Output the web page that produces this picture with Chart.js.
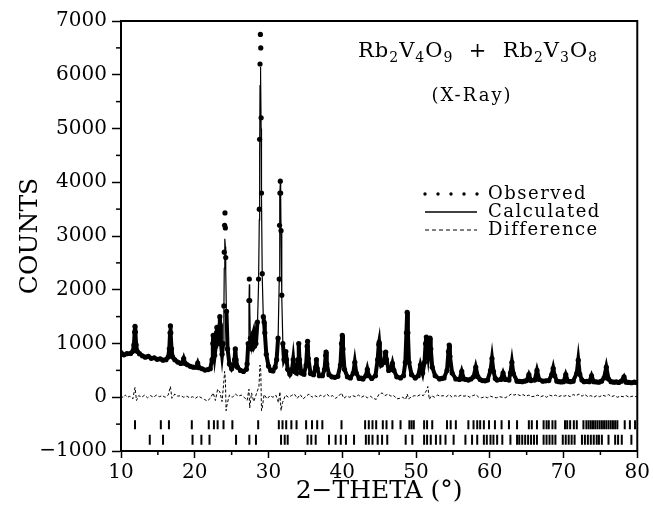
<!DOCTYPE html>
<html>
<head>
<meta charset="utf-8">
<script src="https://cdn.jsdelivr.net/npm/chart.js@4.4.0/dist/chart.umd.min.js"></script>
<style>
  html, body { margin: 0; padding: 0; background: #fff; }
  #wrap { width: 653px; height: 509px; position: relative; }
</style>
</head>
<body>
<div id="wrap"><canvas id="grafico"></canvas></div>
<script>
// Perfil observado / calculado (2-theta em graus, contagens)
const twoTheta = [
  10.0, 10.4, 10.8, 11.3, 11.6, 11.75, 11.85, 11.9, 11.95, 12.05, 12.2, 12.5,
  12.9, 13.3, 13.7, 14.1, 14.5, 14.9, 15.3, 15.7, 16.1,
  16.4, 16.55, 16.65, 16.7, 16.75, 16.85, 17.0, 17.3,
  17.7, 18.1, 18.3, 18.5, 18.7, 19.0, 19.4, 19.8, 20.2, 20.4, 20.6, 21.0, 21.4, 21.8,
  22.1, 22.35, 22.45, 22.5, 22.55, 22.7, 22.85, 22.95, 23.0, 23.05, 23.15, 23.3, 23.4, 23.45, 23.55, 23.7, 23.85, 23.95, 24.0, 24.05, 24.1, 24.15, 24.2, 24.3, 24.45, 24.7,
  25.0, 25.3, 25.4, 25.5, 25.6, 25.8, 26.2, 26.6, 27.0,
  27.1, 27.25, 27.35, 27.4, 27.45, 27.55, 27.7, 27.85, 27.95, 28.1, 28.3, 28.5, 28.65, 28.75, 28.8, 28.85, 28.9, 28.95, 29.0, 29.05, 29.15, 29.3, 29.4, 29.5, 29.7, 30.0, 30.3, 30.6,
  30.9, 31.1, 31.3, 31.45, 31.5, 31.55, 31.6, 31.65, 31.7, 31.8, 31.95, 32.1, 32.25, 32.35, 32.45, 32.6, 32.9,
  33.2, 33.35, 33.5, 33.8, 34.0, 34.1, 34.2, 34.45, 34.8, 35.1, 35.25, 35.3, 35.4, 35.7, 36.1, 36.4, 36.5, 36.6, 36.9, 37.3, 37.6, 37.75, 37.8, 37.9, 38.2, 38.6,
  39.0, 39.4, 39.75, 39.9, 40.0, 40.1, 40.3, 40.7, 41.1, 41.5, 41.7, 41.9, 42.3, 42.55, 42.8, 43.2, 43.4, 43.6, 44.0, 44.5,
  44.8, 44.95, 45.0, 45.1, 45.3, 45.7, 45.85, 45.9, 46.0, 46.3, 46.6, 46.8, 47.0, 47.4, 47.9,
  48.3, 48.55, 48.7, 48.8, 48.9, 49.05, 49.4, 49.9, 50.3, 50.6, 50.9, 51.15, 51.3, 51.4, 51.5, 51.65, 51.8, 51.9, 52.0, 52.2, 52.6,
  53.2, 53.5, 53.8, 54.2, 54.4, 54.5, 54.6, 54.9, 55.4, 55.9, 56.2, 56.5, 56.8, 57.1, 57.45, 57.8, 58.1, 58.4, 58.7, 59.0, 59.35, 59.7,
  60.1, 60.3, 60.5, 60.75, 61.0, 61.5, 61.8, 62.1, 62.6, 62.8, 63.0, 63.2, 63.7, 64.05, 64.4, 64.7, 65.0, 65.3, 65.6, 66.1, 66.4, 66.7,
  67.2, 67.6, 68.0, 68.4, 68.6, 68.8, 69.1, 69.4, 69.7, 70.0, 70.3, 70.6, 70.95, 71.3, 71.8, 72.0, 72.2, 72.5, 72.8, 73.15, 73.5,
  73.8, 74.1, 74.45, 74.8, 75.15, 75.5, 75.8, 76.1, 76.45, 76.8, 77.15, 77.5, 77.85, 78.2, 78.5, 78.85, 79.2, 79.6, 80.0
];
const observed = [
  830, 790, 810, 815, 854, 975, 1214, 1320, 1214, 975, 854, 811,
  770, 745, 760, 725, 735, 705, 715, 690, 700,
  749, 901, 1198, 1330, 1198, 901, 749, 696,
  655, 630, 640, 720, 630, 605, 575, 560, 560, 635, 550, 530, 505, 515,
  530, 700, 1000, 1150, 1000, 780, 950, 1200, 1300, 1200, 1000, 1250, 1500, 1350, 1000, 800, 1000, 1700, 2700, 3200, 3430, 3150, 2600, 1600, 900, 620,
  530, 600, 700, 900, 700, 560, 500, 480, 520,
  620, 1000, 1800, 2200, 1800, 1100, 900, 1150, 1200, 950, 1000, 1400, 2200, 3500, 4800, 6200, 6750, 6500, 5200, 3800, 2300, 1500, 1400, 1200, 800, 580, 500, 490,
  560, 700, 1100, 2200, 3200, 3800, 4020, 3800, 3100, 1900, 1000, 700, 750, 850, 700, 520, 430,
  520, 700, 480, 450, 700, 1000, 700, 450, 430, 600, 950, 1040, 720, 440, 420, 560, 700, 540, 400, 400, 520, 780, 840, 620, 420, 380,
  370, 390, 600, 1000, 1150, 900, 520, 380, 360, 450, 650, 450, 350, 355, 340, 400, 520, 400, 350, 400,
  700, 980, 1020, 850, 600, 650, 820, 840, 700, 500, 520, 630, 500, 380, 360,
  400, 650, 1200, 1580, 1200, 650, 420, 360, 400, 600, 450, 650, 1000, 1120, 950, 780, 980, 1100, 900, 560, 400,
  340, 350, 360, 500, 850, 970, 760, 450, 340, 330, 480, 340, 330, 320, 340, 380, 560, 380, 330, 310, 305, 320,
  500, 720, 480, 350, 320, 330, 450, 330, 320, 450, 650, 440, 300, 295, 290, 300, 310, 420, 310, 320, 500, 330,
  300, 305, 310, 420, 540, 400, 300, 290, 285, 290, 420, 300, 290, 300, 450, 690, 430, 320, 290, 295, 290,
  400, 290, 285, 280, 300, 360, 560, 340, 290, 280, 285, 275, 300, 380, 280, 275, 270, 280, 270
];
const calculated = [
  815, 805, 800, 808, 846, 955, 1166, 1260, 1166, 955, 846, 809,
  768, 755, 745, 735, 725, 715, 705, 698, 693,
  740, 873, 1134, 1250, 1134, 873, 740, 693,
  650, 635, 635, 705, 628, 600, 582, 565, 556, 625, 548, 525, 512, 508,
  525, 680, 960, 1100, 960, 760, 920, 1150, 1240, 1150, 960, 1200, 1420, 1300, 980, 790, 980, 1600, 2400, 2800, 2950, 2800, 2350, 1500, 880, 610,
  525, 590, 690, 860, 690, 555, 505, 485, 515,
  610, 980, 1720, 2100, 1720, 1050, 880, 1100, 1150, 930, 980, 1350, 2100, 3300, 4500, 5800, 6150, 6000, 5000, 3700, 2250, 1450, 1350, 1150, 790, 575, 505, 495,
  555, 690, 1080, 2150, 3150, 3750, 3980, 3750, 3050, 1850, 980, 690, 740, 820, 690, 515, 435,
  515, 680, 475, 445, 680, 950, 690, 450, 425, 590, 920, 980, 700, 435, 418, 550, 660, 530, 398, 395, 510, 750, 800, 600, 415, 378,
  368, 385, 585, 960, 1080, 870, 510, 375, 358, 445, 620, 445, 348, 345, 338, 395, 500, 395, 352, 395,
  690, 930, 960, 820, 590, 640, 790, 800, 680, 495, 515, 600, 495, 378, 358,
  398, 640, 1100, 1450, 1100, 640, 418, 358, 398, 580, 445, 640, 930, 1000, 880, 760, 920, 1000, 860, 550, 398,
  338, 345, 355, 490, 820, 920, 740, 445, 338, 328, 460, 338, 328, 318, 335, 375, 540, 375, 325, 310, 312, 318,
  490, 680, 470, 345, 318, 325, 430, 328, 318, 440, 620, 430, 298, 293, 288, 297, 305, 400, 308, 318, 480, 328,
  298, 303, 308, 410, 510, 395, 295, 288, 288, 288, 400, 298, 296, 298, 440, 650, 425, 320, 288, 288, 288,
  390, 288, 284, 278, 295, 355, 520, 338, 288, 278, 276, 273, 290, 370, 278, 272, 268, 268, 268
];

// Curva diferença (obs - calc), desenhada em torno de zero
const diffTheta = [
  10.0, 10.3, 10.6, 10.9, 11.2, 11.6, 11.9, 12.1, 12.4, 12.8,
  13.2, 13.6, 14.0, 14.4, 14.8, 15.2, 15.6, 16.0, 16.4, 16.7,
  16.9, 17.3, 17.7, 18.1, 18.5, 18.9, 19.3, 19.7, 20.1, 20.5,
  20.9, 21.3, 21.7, 22.1, 22.5, 22.8, 23.1, 23.4, 23.7, 23.95,
  24.05, 24.15, 24.25, 24.4, 24.7, 25.1, 25.5, 25.9, 26.3, 26.7,
  27.1, 27.35, 27.45, 27.7, 28.0, 28.3, 28.7, 28.85, 28.95, 29.05,
  29.15, 29.4, 29.8, 30.2, 30.6, 31.0, 31.35, 31.55, 31.7, 31.9,
  32.3, 32.7, 33.1, 33.5, 33.9, 34.3, 34.7, 35.1, 35.5, 35.9,
  36.3, 36.7, 37.1, 37.5, 37.9, 38.3, 38.7, 39.1, 39.5, 39.9,
  40.2, 40.6, 41.0, 41.4, 41.8, 42.2, 42.6, 43.0, 43.4, 43.8,
  44.2, 44.6, 45.0, 45.4, 45.8, 46.2, 46.6, 47.0, 47.4, 47.8,
  48.2, 48.6, 48.8, 49.0, 49.4, 49.8, 50.2, 50.6, 51.0, 51.4,
  51.6, 51.8, 52.1, 52.5, 52.9, 53.3, 53.7, 54.1, 54.5, 54.9,
  55.3, 55.7, 56.1, 56.5, 56.9, 57.3, 57.7, 58.1, 58.5, 58.9,
  59.3, 59.7, 60.1, 60.5, 60.9, 61.3, 61.7, 62.1, 62.5, 62.9,
  63.3, 63.7, 64.1, 64.5, 64.9, 65.3, 65.7, 66.1, 66.5, 66.9,
  67.3, 67.7, 68.1, 68.5, 68.9, 69.3, 69.7, 70.1, 70.5, 70.9,
  71.3, 71.7, 72.1, 72.5, 72.9, 73.3, 73.7, 74.1, 74.5, 74.9,
  75.3, 75.7, 76.1, 76.5, 76.9, 77.3, 77.7, 78.1, 78.5, 78.9,
  79.3, 79.7, 80.0
];
const difference = [
  30, -10, 40, 0, 20, -30, 180, -60, 30, 0,
  40, -10, 30, 0, 40, 10, 30, 0, 40, 200,
  -20, 60, 20, 30, 0, 20, -10, 10, -20, 20,
  -10, -40, -70, -20, 80, -60, 150, 100, -80, 300,
  480, 350, -250, -120, 40, 0, 60, 20, 40, 0,
  -60, 150, -200, 80, -80, 40, 200, 600, 500, -250,
  -200, 50, -30, 30, 0, 40, -100, 100, -250, -100,
  40, 0, 30, 60, -20, 50, -30, 20, 60, 0,
  30, 0, 40, 10, 60, 10, 30, -20, 20, 80,
  -20, 20, 0, 30, 10, 40, 0, 30, -10, 20,
  -20, -40, 60, 80, 30, 60, 20, 30, -30, -20,
  0, -40, 60, -30, 10, 30, 20, 50, 30, 120,
  200, -40, 30, 0, 40, 20, 30, 10, 50, 0,
  30, 10, 40, 20, 30, 0, 30, 50, 0, -10,
  10, -10, 20, 0, -10, 10, 0, -10, 20, 60,
  40, 60, 30, 50, 20, 40, 10, 20, 40, 10,
  30, 0, 40, 20, 40, 10, 30, 20, 40, 10,
  50, 30, 60, 20, 50, 10, 30, 0, 30, 10,
  40, 20, 50, 10, 30, 0, 20, 10, 30, 0,
  20, 10, 20
];

// Posições das reflexões (marcas verticais) das duas fases
const phase1Peaks = [
  11.9, 15.4, 16.5, 19.6, 21.9, 22.6, 23.1, 23.9, 25.1, 28.6, 31.4, 31.9, 32.4, 33.1, 33.8,
  35.1, 35.9, 36.6, 37.3, 39.9, 43.1, 43.6, 44.1, 44.6, 45.5, 46.0, 46.8, 47.9, 49.1, 49.4,
  49.7, 51.1, 51.5, 52.2, 54.2, 54.7, 55.4, 57.1, 57.8, 58.3, 58.7, 59.2, 59.9, 60.7, 61.6,
  62.6, 63.7, 65.3, 65.7, 66.4, 67.3, 67.7, 68.0, 68.5, 68.9, 70.2, 70.5, 70.9, 71.4, 71.8,
  72.7, 73.1, 73.4, 73.7, 74.0, 74.3, 74.6, 74.9, 75.2, 75.5, 75.8, 76.1, 76.4, 76.7, 77.0,
  77.3, 78.3, 79.0, 79.7
];
const phase2Peaks = [
  13.9, 15.7, 19.7, 20.9, 22.0, 25.6, 27.4, 28.3, 31.7, 32.2, 32.6, 35.3, 35.8, 36.4, 38.2,
  39.1, 39.8, 40.5, 41.6, 43.2, 43.6, 44.1, 44.8, 45.4, 46.1, 48.6, 49.5, 51.1, 51.5, 52.0,
  52.7, 53.3, 54.0, 55.1, 56.7, 57.6, 58.3, 59.2, 59.6, 60.1, 60.5, 61.0, 61.7, 62.8, 63.7,
  64.0, 64.4, 64.8, 65.2, 65.6, 66.0, 66.4, 67.3, 67.7, 68.1, 68.5, 68.9, 69.9, 70.3, 70.7,
  71.1, 71.5, 72.5, 72.9, 73.3, 73.7, 74.1, 74.5, 74.8, 75.2, 76.1, 77.0, 77.4, 77.9, 79.2
];

// Marcas menores dos eixos
const minorTicksX = [15, 25, 35, 45, 55, 65, 75];
const minorTicksY = [-500, 500, 1500, 2500, 3500, 4500, 5500, 6500];

// Textos
const formulaParts = [
  ['Rb', false], ['2', true], ['V', false], ['4', true], ['O', false], ['9', true],
  ['  +  ', false],
  ['Rb', false], ['2', true], ['V', false], ['3', true], ['O', false], ['8', true]
];
const subtitle = '(X-Ray)';
const legendLabels = ['Observed', 'Calculated', 'Difference'];

const FONTE = "'DejaVu Serif', serif";
Chart.defaults.font.family = FONTE;
Chart.defaults.color = '#000';

const pontos = (xs, ys) => xs.map((x, i) => ({ x: x, y: ys[i] }));
const marcas = (xs, nivel) => xs.map(x => ({ x: x, y: nivel }));

// Moldura, marcas menores, título e legenda
const extras = {
  id: 'extras',
  afterDraw(chart) {
    const { ctx, chartArea: a, scales: { x, y } } = chart;
    ctx.save();
    ctx.strokeStyle = '#000';
    ctx.lineWidth = 2;
    ctx.strokeRect(a.left, a.top, a.right - a.left, a.bottom - a.top);

    ctx.lineWidth = 1.5;
    minorTicksX.forEach(v => {
      const px = x.getPixelForValue(v);
      ctx.beginPath(); ctx.moveTo(px, a.bottom); ctx.lineTo(px, a.bottom + 4); ctx.stroke();
    });
    minorTicksY.forEach(v => {
      const py = y.getPixelForValue(v);
      ctx.beginPath(); ctx.moveTo(a.left, py); ctx.lineTo(a.left - 5, py); ctx.stroke();
    });

    // fórmula com índices
    ctx.fillStyle = '#000';
    ctx.textBaseline = 'alphabetic';
    ctx.letterSpacing = '1px';
    const grande = '21px ' + FONTE, pequeno = '14px ' + FONTE;
    let total = 0;
    formulaParts.forEach(([t, sub]) => { ctx.font = sub ? pequeno : grande; total += ctx.measureText(t).width; });
    let cx = 478 - total / 2;
    formulaParts.forEach(([t, sub]) => {
      ctx.font = sub ? pequeno : grande;
      ctx.fillText(t, cx, sub ? 62 : 57);
      cx += ctx.measureText(t).width;
    });

    ctx.font = '18px ' + FONTE;
    ctx.letterSpacing = '2px';
    ctx.textAlign = 'center';
    ctx.fillText(subtitle, 472, 101);

    // legenda
    ctx.textAlign = 'left';
    ctx.textBaseline = 'middle';
    ctx.font = '18px ' + FONTE;
    ctx.letterSpacing = '1.5px';
    const linhas = [194, 212, 230];
    const x0 = 425, x1 = 477;
    for (let i = 0; i < 5; i++) {
      ctx.beginPath();
      ctx.arc(x0 + i * (x1 - x0) / 4, linhas[0], 1.7, 0, Math.PI * 2);
      ctx.fill();
    }
    ctx.lineWidth = 1.5;
    ctx.beginPath(); ctx.moveTo(x0, linhas[1]); ctx.lineTo(x1, linhas[1]); ctx.stroke();
    ctx.lineWidth = 1;
    ctx.setLineDash([4, 3]);
    ctx.beginPath(); ctx.moveTo(x0, linhas[2]); ctx.lineTo(x1, linhas[2]); ctx.stroke();
    ctx.setLineDash([]);
    legendLabels.forEach((t, i) => ctx.fillText(t, 488, linhas[i]));
    ctx.restore();
  }
};

new Chart(document.getElementById('grafico'), {
  type: 'line',
  data: {
    datasets: [
      {
        label: 'Calculated',
        data: pontos(twoTheta, calculated),
        borderColor: '#000', borderWidth: 1.2,
        pointRadius: 0, tension: 0, order: 1
      },
      {
        label: 'Observed',
        data: pontos(twoTheta, observed),
        // faixa densa de medidas no fundo; nos picos altos só os pontos
        borderColor: '#000', borderWidth: 4, tension: 0,
        segment: {
          borderWidth: c => Math.max(c.p0.parsed.y, c.p1.parsed.y) > 1600 ? 0.01 : 4
        },
        pointRadius: 2.6, pointBackgroundColor: '#000', pointBorderWidth: 0,
        order: 2
      },
      {
        label: 'Difference',
        data: pontos(diffTheta, difference),
        borderColor: '#000', borderWidth: 1, borderDash: [3, 2],
        pointRadius: 0, tension: 0, order: 3
      },
      {
        label: 'Fase 1',
        data: marcas(phase1Peaks, -510),
        showLine: false,
        pointStyle: 'line', pointRotation: 90, pointRadius: 4.5,
        pointBorderColor: '#000', pointBorderWidth: 2, order: 4
      },
      {
        label: 'Fase 2',
        data: marcas(phase2Peaks, -790),
        showLine: false,
        pointStyle: 'line', pointRotation: 90, pointRadius: 5,
        pointBorderColor: '#000', pointBorderWidth: 2, order: 5
      }
    ]
  },
  options: {
    responsive: true,
    maintainAspectRatio: false,
    animation: false,
    layout: { padding: { top: 21, right: 14, left: 0, bottom: 0 } },
    plugins: { legend: { display: false }, tooltip: { enabled: false } },
    scales: {
      x: {
        type: 'linear', min: 10, max: 80,
        ticks: { stepSize: 10, font: { size: 20 }, padding: 3, maxRotation: 0 },
        grid: { drawOnChartArea: false, tickLength: 7, tickWidth: 1.5, tickColor: '#000' },
        border: { color: '#000', width: 2 },
        title: { display: true, text: '2\u2212THETA (\u00b0)', font: { size: 25 }, padding: { top: 0, bottom: 3 } },
        afterFit(scale) { scale.height = 58; }
      },
      y: {
        min: -1000, max: 7000,
        ticks: {
          stepSize: 1000, font: { size: 20 }, padding: 5,
          callback: v => v < 0 ? '\u2212' + Math.abs(v) : String(v)
        },
        grid: { drawOnChartArea: false, tickLength: 9, tickWidth: 1.5, tickColor: '#000' },
        border: { color: '#000', width: 2 },
        title: { display: true, text: 'COUNTS', font: { size: 25 }, padding: { top: 15, bottom: 0 } },
        afterFit(scale) { scale.width = 121; }
      }
    }
  },
  plugins: [extras]
});
</script>
</body>
</html>
